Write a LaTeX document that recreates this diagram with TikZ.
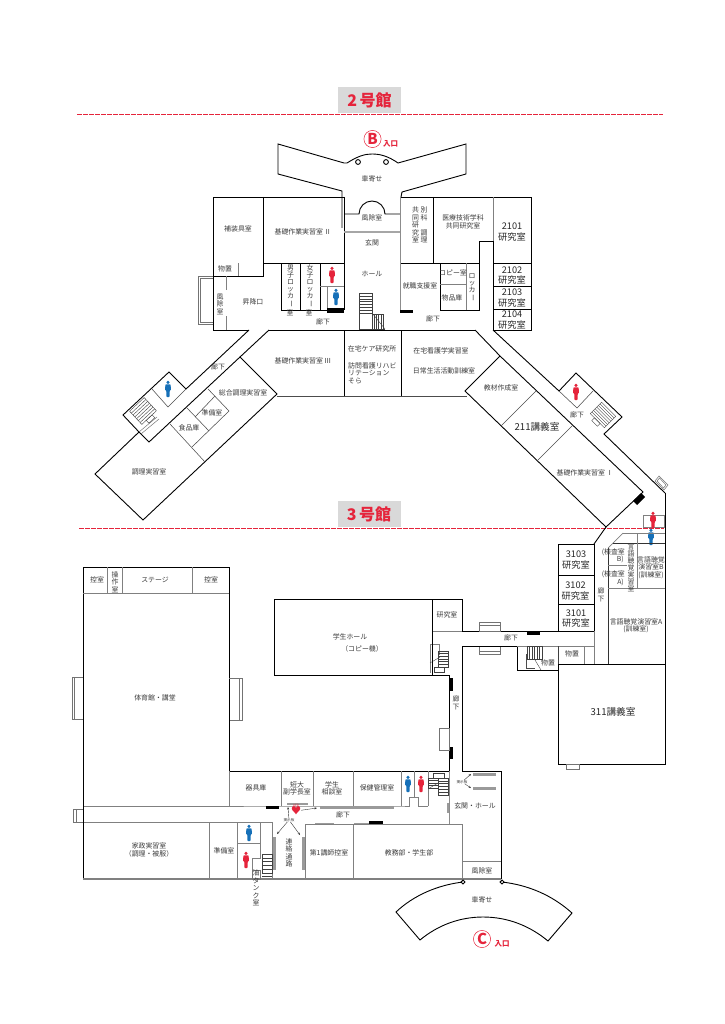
\documentclass[tikz,border=0pt]{standalone}
\usepackage{fontspec}
\setmainfont{Noto Sans CJK JP}
\usetikzlibrary{arrows.meta}
\definecolor{lab}{HTML}{3A3A3A}
\definecolor{redm}{HTML}{E5243B}
\definecolor{blum}{HTML}{1670B8}
\definecolor{gwall}{HTML}{808080}
\definecolor{gbar}{HTML}{9A9A9A}
\newcounter{lbln}
\newcommand{\lbl}[4][]{\stepcounter{lbln}\node[txt,#1] (t\arabic{lbln}) at (#2,#3) {#4};}
\newcommand{\vbar}{\rotatebox[origin=c]{-90}{ー}}
\newcommand{\person}[3]{\fill[#3] (#1,#2-6.6) circle (1.7);
 \fill[#3,rounded corners=0.6] (#1-2.6,#2-4.6) -- (#1+2.6,#2-4.6) -- (#1+3,#2+1.2) -- (#1+1.8,#2+1.2) -- (#1+1.5,#2+8) -- (#1-1.5,#2+8) -- (#1-1.8,#2+1.2) -- (#1-3,#2+1.2) -- cycle;}
\newcommand{\stairH}[5]{\draw[stairl] (#1,#2) rectangle (#1+#3,#2+#4); \foreach \i in {1,...,#5} \draw[stairl] (#1,{#2+#4*\i/(#5+1)}) -- (#1+#3,{#2+#4*\i/(#5+1)});}
\newcommand{\stairV}[5]{\draw[stairl] (#1,#2) rectangle (#1+#3,#2+#4); \foreach \i in {1,...,#5} \draw[stairl] ({#1+#3*\i/(#5+1)},#2) -- ({#1+#3*\i/(#5+1)},#2+#4);}
\tikzset{
 wall/.style={draw=black,line width=0.9pt,line join=miter},
 thin wall/.style={draw=black!70,line width=0.55pt},
 gline/.style={draw=gwall,line width=0.7pt},
 gthick/.style={draw=gwall,line width=1.3pt},
 stairl/.style={draw=black!75,line width=0.4pt},
 txt/.style={font=\fontsize{6.9}{7.5}\selectfont,text=lab,inner sep=0pt,align=center},
 vtxt/.style={txt,font=\fontsize{6.9}{7}\selectfont},
 num/.style={txt,font=\fontsize{9.2}{10.8}\selectfont,text=black!85},
 big/.style={txt,font=\fontsize{9.6}{11}\selectfont,text=black!85},
 title/.style={fill=black!15,text=redm,font=\bfseries\fontsize{16}{16}\selectfont,inner sep=0pt,minimum width=63pt,minimum height=26pt},
 redash/.style={draw=redm,line width=1pt,dash pattern=on 5pt off 1pt},
 blackbar/.style={fill=black},
 graybar/.style={fill=gbar},
 small/.style={txt,font=\fontsize{3.6}{4}\selectfont},
 arr/.style={draw=black!80,line width=0.4pt,-{Stealth[length=2.5pt,width=2pt]}},
 ent/.style={txt,text=redm,font=\bfseries\fontsize{15}{15}\selectfont},
 entc/.style={txt,text=redm,font=\bfseries\fontsize{7.5}{8}\selectfont},
 door/.style={draw=black!55,line width=0.5pt}
}
\begin{document}
\begin{tikzpicture}[x=1pt,y=-1pt]
\useasboundingbox (0,0) rectangle (724,1024);
% ---------- titles
\node[title] (title2) at (369.5,100.5) {2\,号館};
\draw[redash] (77,115) -- (663,115);
\node[title] (title3) at (369,514) {3\,号館};
\draw[redash] (79,528.5) -- (664,528.5);
% B entrance
\draw[redm,line width=0.5pt] (372.5,139) circle (8.6);
\node[ent] (entB) at (372.5,139) {B};
\node[entc] (entBl) at (390.5,144) {入口};
% ---------- building 2 canopy
\draw[wall] (342,228) -- (342,191) -- (278,174) -- (278,144) -- (344,163) -- (347,163)
  .. controls (358,156) and (365,154) .. (372,154) .. controls (380,154) and (388,156) .. (398,163)
  -- (466,144) -- (466,174) -- (402,192) -- (401,197);
\draw[wall,fill=white] (358,162) circle (2.4);
\draw[wall,fill=white] (386,162) circle (2.4);
\lbl{372}{179}{車寄せ}
% building 2 outline
\draw[wall] (249,330) -- (213,330) -- (213,197) -- (344,197);
\draw[wall] (401,197) -- (531,197) -- (531,330) -- (493,330);
\draw[wall] (263,197) -- (263,276) -- (213,276);
\draw[wall] (263,263) -- (344,263);
\draw[wall] (344,197) -- (344,310);
\draw[gline] (238,263) -- (238,276);
\lbl{238}{229}{補装具室}
\lbl{303}{232}{基礎作業実習室 Ⅱ}
\lbl{225}{269}{物置}
% left door
\draw[door] (213,276) -- (198,276) -- (198,324) -- (213,324);
\draw[door] (200,278) -- (200,322) -- (213,322);
\draw[door] (200,278) -- (213,278);
\draw[gline] (226.5,276) -- (226.5,290);
\draw[gline] (226.5,316) -- (226.5,330);
\lbl{220}{304}{風\\除\\室}
\lbl{253}{302}{昇降口}
% lockers
\draw[wall] (281,263) -- (281,310) -- (320,310) -- (320,263);
\draw[wall] (300,263) -- (300,310);
\lbl[vtxt]{290.5}{286}{男\\子\\ロ\\ッ\\カ\\\vbar}
\lbl[vtxt]{310}{286}{女\\子\\ロ\\ッ\\カ\\\vbar}
\lbl{290}{312.5}{室}
\lbl{309}{312.5}{室}
% toilet block
\draw[gline] (320,286) -- (344,286);
\draw[gline] (327,286) -- (327,310);
\draw[wall] (320,310) -- (344,310);
\fill[blackbar] (327,308) rectangle (344,313);
\person{332}{275}{redm}
\person{336}{297}{blum}
% entry
\draw[wall] (344,214) -- (359,214) arc[start angle=180,end angle=360,radius=13] -- (400,214);
\draw[gline,draw=black!35,line width=1.1pt] (344,232) -- (400,232);
\draw[draw=black!45,line width=1pt] (400.5,197) -- (400.5,310);
\lbl{372}{217.5}{風除室}
\lbl{372}{243}{玄関}
\lbl{372}{274}{ホール}
% stairs hall
\draw[stairl] (359,293) -- (359,329);
\stairH{359}{293}{13}{20}{6}
\stairV{372}{314}{11}{15}{4}
\draw[stairl] (372,313) -- (385,329);
\draw[stairl] (359,329) -- (385,329);
% right block
\draw[wall] (433,197) -- (433,263);
\draw[wall] (401,263) -- (479,263);
\draw[wall] (440,263) -- (440,310) -- (479,310) -- (479,241) -- (493,241);
\draw[gline] (466,263) -- (466,310);
\draw[gline] (440,284) -- (466,284);
\draw[gline] (493,197) -- (493,263);
\fill[blackbar] (400,310) rectangle (413,313);
\lbl{424}{225}{別\\科\\　\\調\\理}
\lbl{415.5}{225}{共\\同\\研\\究\\室}
\lbl{463}{222}{医療技術学科\\共同研究室}
\lbl{420}{286}{就職支援室}
\lbl{453}{273}{コピー室}
\lbl{452}{298}{物品庫}
\lbl[vtxt]{472}{288}{ロ\\ッ\\カ\\\vbar}
\lbl{323}{322}{廊下}
\lbl{433}{319}{廊下}
% 21xx rooms
\draw[wall] (493,263) rectangle (531,330);
\draw[wall] (493,286) -- (531,286);
\draw[wall] (493,309) -- (531,309);
\draw[wall] (493,241) -- (493,330);
\lbl[num]{512}{232}{2101\\研究室}
\lbl[num]{512}{275.5}{2102\\研究室}
\lbl[num]{512}{298}{2103\\研究室}
\lbl[num]{512}{320}{2104\\研究室}
% bottom row
\draw[wall] (269,330) -- (475,330);
\draw[wall] (344,330) -- (344,396);
\draw[wall] (401,330) -- (401,396);
\draw[gline,draw=black!70,line width=1pt] (277,396) -- (467,396);
\lbl{303}{361}{基礎作業実習室 Ⅲ}
\lbl{372}{349}{在宅ケア研究所}
\lbl[anchor=west,align=left]{348}{373}{訪問看護リハビ\\リテーション\\そら}
\lbl{441}{351}{在宅看護学実習室}
\lbl{444}{371}{日常生活活動訓練室}
% left wing
\draw[wall] (249,330) -- (186,389) -- (169,372) -- (123,415) -- (139,432) -- (95,474) -- (143,520) -- (277,394) -- (240,357) -- (269,330);
\draw[wall] (139,432) -- (149,442) -- (240,357);
\draw[thin wall] (152,389) -- (168,407) -- (186,389);
\draw[thin wall] (170,424) -- (205,462);
\draw[thin wall] (187,408) -- (209,431);
\draw[thin wall] (192,447) -- (229,411) -- (208,389);
\draw[thin wall] (195,417) -- (215,396);
\draw[door] (139,432) -- (157,417);
\draw[door] (141,434) -- (159,419);
\begin{scope}[shift={(143,411)},rotate=43]
 \stairH{-10}{-9}{20}{18}{6}
 \draw[stairl] (-4,9) rectangle (4,13);
\end{scope}
\person{168}{389}{blum}
\lbl{218}{367}{廊下}
\lbl{243}{393}{総合調理実習室}
\lbl{212}{413}{準備室}
\lbl{189}{428}{食品庫}
\lbl{149}{472}{調理実習室}
% right wing
\draw[wall] (475,330) -- (500,356) -- (643,492) -- (606,527) -- (465,391) -- (500,356);
\draw[wall] (493,330) -- (559,391) -- (576,373) -- (622,417) -- (604,434) -- (665,493);
\draw[thin wall] (559,391) -- (577,408) -- (593,391);
\draw[thin wall] (536,391) -- (501,426);
\draw[thin wall] (572,426) -- (537,461);
\fill[blackbar] (633,501) -- (637,505) -- (645,497) -- (641,493) -- cycle;
\begin{scope}[shift={(603,415)},rotate=-45]
 \stairH{-10}{-8}{20}{16}{6}
 \draw[stairl] (-4,8) rectangle (4,12);
\end{scope}
\draw[door] (655,481) -- (659,476) -- (668,485) -- (664,490) -- cycle;
\draw[door] (657,481) -- (659.5,478) -- (666,485) -- (663.5,488) -- cycle;
\person{576}{392}{redm}
\lbl{577}{415}{廊下}
\lbl{501}{388}{教材作成室}
\lbl[big]{537}{427}{211講義室}
\lbl{585}{473}{基礎作業実習室 Ⅰ}
% ---------- building 3 right
\draw[wall] (606,527) -- (594,544);
\draw[wall] (558,544) rectangle (594,631);
\draw[wall] (558,575) -- (594,575);
\draw[wall] (558,604) -- (594,604);
\lbl[num]{576}{560}{3103\\研究室}
\lbl[num]{575.5}{591}{3102\\研究室}
\lbl[num]{576}{618.5}{3101\\研究室}
\draw[wall] (665,493) -- (665,764);
\draw[gline] (643,515) rectangle (664,527);
\person{653}{520}{redm}
\person{651}{537}{blum}
\draw[gline] (623,533) -- (665,533);
\draw[gline] (623,533) -- (608,548);
\draw[gline,draw=black!80] (613,543) -- (665,543);
\draw[gline,draw=black!80,line width=0.9pt] (608,548) -- (608,664);
\draw[gline] (637,533) -- (637,588);
\draw[gline] (608,565) -- (627,565);
\draw[gline] (608,588) -- (665,588);
\lbl[anchor=east]{625}{552.5}{(検査室}
\lbl[anchor=east]{624}{559.5}{B)}
\lbl[anchor=east]{625}{574}{(検査室}
\lbl[anchor=east]{624}{582}{A)}
\lbl[vtxt]{631}{568}{言\\語\\聴\\覚\\実\\習\\室}
\lbl{651}{567.5}{言語聴覚\\演習室B\\(訓練室)}
\lbl{601}{595}{廊\\下}
\lbl{636}{626}{言語聴覚演習室A\\(訓練室)}
% 311
\draw[wall] (558,664) rectangle (665,764);
\draw[door] (566,764) rectangle (579,769);
\lbl[big]{613}{712}{311講義室}
% corridor
\draw[wall] (432,599) -- (462,599) -- (462,631) -- (558,631);
\draw[gline] (432,631) -- (462,631);
\draw[gline] (432,599) -- (432,644);
\draw[door] (479,622) rectangle (500,631);
\draw[door] (479,625) -- (500,625);
\draw[door] (479,646) rectangle (500,654);
\draw[door] (479,651) -- (500,651);
\fill[blackbar] (527,631) rectangle (540,635);
\lbl{511}{638}{廊下}
\draw[wall] (449,675) -- (449,771);
\draw[wall] (462,771) -- (462,646) -- (517,646) -- (517,670) -- (558,670);
\draw[gline] (517,646) -- (594,646);
\draw[gline] (594,631) -- (594,664);
\draw[gline] (584,646) -- (584,664);
\draw[thin wall] (526,654) -- (526,668) -- (535,668);
\stairV{527}{646}{15}{13}{5}
\draw[stairl] (535,660) -- (541,670);
\draw[stairl] (558,646) -- (558,664);
\lbl{572}{654}{物置}
\lbl{548}{663}{物置}
% upper stairs hall
\draw[gline] (430,644) -- (430,673);
\draw[gline] (430,644) -- (439,644) -- (439,655);
\stairH{438}{651}{10}{16}{5}
\draw[stairl] (430,663) -- (440,657);
\draw[stairl] (434,667) rectangle (444,672);
\fill[blackbar] (449,678) rectangle (453,691);
\fill[blackbar] (449,747) rectangle (453,759);
\draw[door] (439,728) rectangle (449,750);
\lbl{456}{703}{廊\\下}
% right hall
\draw[wall] (462,771) -- (501,771) -- (501,879);
\draw[gline] (462,861) -- (501,861);
\lbl{475}{806}{玄関・ホール}
\lbl{482}{871}{風除室}
\fill[graybar] (473,772.5) rectangle (496,775.5);
\fill[graybar] (473,786.5) rectangle (496,789.5);
\fill[graybar] (447,803) rectangle (449,813);
\node[small] (board1) at (462,782) {掲示板};
\coordinate (b1a) at (471,774);
\coordinate (b1b) at (471,788);
\draw[arr] (board1) -- (b1a);
\draw[arr] (board1) -- (b1b);
\draw[draw=black!45,line width=1pt] (449,771) -- (449,824);
% ---------- gym
\draw[wall] (83,567) rectangle (229,806);
\draw[gline] (83,593) -- (229,593);
\draw[gline] (107,567) -- (107,593);
\draw[gline] (122,567) -- (122,593);
\draw[gline] (192,567) -- (192,593);
\draw[door] (83,677) -- (72,677) -- (72,719) -- (83,719);
\draw[door] (74.5,677) -- (74.5,719);
\draw[door] (229,678) -- (242,678) -- (242,720) -- (229,720);
\draw[door] (239,678) -- (239,720);
\lbl{97}{580}{控室}
\lbl{115}{582}{操\\作\\室}
\lbl{155}{580}{ステージ}
\lbl{211}{580}{控室}
\lbl{155}{698}{体育館・講堂}
% student hall
\draw[wall] (274,599) rectangle (432,675);
\draw[wall] (432,675) -- (449,675);
\draw[wall] (229,720) -- (229,771) -- (449,771);
\lbl{350}{637}{学生ホール}
\lbl{362}{649}{（コピー機）}
\lbl{447}{615}{研究室}
% rooms row
\draw[gline] (229,771) -- (229,806);
\draw[gline] (281,771) -- (281,806);
\draw[gline] (313,771) -- (313,806);
\draw[gline] (353,771) -- (353,806);
\draw[gline] (401,771) -- (401,806);
\draw[gline] (414,771) -- (414,797);
\draw[gline] (428,771) -- (428,806);
\draw[gline] (83,806) -- (401,806) -- (409,806) -- (409,797) -- (418,797) -- (418,806) -- (428,806);
\lbl{256}{788}{器具庫}
\lbl{297}{788.5}{短大\\副学長室}
\lbl{332}{788.5}{学生\\相談室}
\lbl{377}{788}{保健管理室}
\person{408}{784}{blum}
\person{421}{784}{redm}
\draw[stairl] (433,773) rectangle (444,778);
\stairH{438}{778}{10}{17}{5}
\stairH{428}{778}{10}{10}{3}
\draw[stairl] (428,789) -- (438,783);
% bars
\fill[blackbar] (266,806) rectangle (279,809);
\fill[graybar] (287,803) rectangle (308,805);
\fill[graybar] (320,806) rectangle (394,809);
\fill[graybar] (315,822.5) rectangle (334,824.5);
\fill[graybar] (354,822.5) rectangle (369,824.5);
\fill[blackbar] (369,821) rectangle (383,824);
% AED
\node[inner sep=0pt,text=redm,font=\fontsize{10}{10}\selectfont] (aed) at (296,811) {♥};
\node[inner sep=0pt,text=redm,font=\fontsize{3}{3}\selectfont] (aedl) at (296,805.5) {AED};
\node[small] (board2) at (289,820) {掲示板};
\coordinate (b2a) at (277,834);
\coordinate (b2b) at (300,835);
\coordinate (b2c) at (288,807);
\coordinate (b2d) at (317,808);
\draw[arr] (board2) -- (b2a);
\draw[arr] (board2) -- (b2b);
\draw[arr] (board2) -- (b2c);
\draw[arr] (aed) -- (b2d);
% left door corridor
\draw[door] (83,809) -- (73,809) -- (73,822) -- (83,822);
\draw[door] (76,809) -- (76,822);
% lower floor
\draw[gline] (83,822) -- (272,822);
\draw[wall] (83,806) -- (83,879);
\draw[gthick] (83,879) -- (501,879);
\draw[gline] (209,822) -- (209,879);
\draw[gline] (237,822) -- (237,879);
\draw[gline] (260,822) -- (260,858) -- (252,858) -- (252,879);
\draw[gline] (272,822) -- (272,879);
\draw[gline] (237,843) -- (260,843);
\draw[gline] (305,824) -- (305,879);
\draw[gline] (305,824) -- (462,824) -- (462,879);
\draw[gline] (353,824) -- (353,879);
\stairH{262}{854}{10}{19}{4}
\draw[stairl] (262,876) -- (272,876);
\fill[graybar] (273,837) rectangle (276,870);
\fill[graybar] (302,837) rectangle (304.5,870);
\person{249}{833}{blum}
\person{246}{860}{redm}
\lbl{149}{850}{家政実習室\\（調理・被服）}
\lbl{224}{851}{準備室}
\lbl{289}{853}{連\\絡\\通\\路}
\lbl{329}{853}{第1講師控室}
\lbl{409}{853}{教務部・学生部}
\lbl{343}{814.5}{廊下}
\draw[door] (252,870) rectangle (260,879);
\lbl{256}{888}{油\\タ\\ン\\ク\\室}
% canopy C
\draw[wall] (463,882) .. controls (438,885) and (414,895) .. (396,912) -- (420,940) .. controls (438,925) and (460,917) .. (483,917) .. controls (508,917) and (530,926) .. (548,941) -- (572,913) .. controls (552,895) and (528,885) .. (502,882);
\draw[wall,fill=white] (463,882) circle (1.9);
\draw[wall,fill=white] (502,882) circle (1.9);
\lbl{482}{900}{車寄せ}
\draw[redm,line width=0.5pt] (482,939) circle (8.6);
\node[ent] (entC) at (482,939) {C};
\node[entc] (entCl) at (502,944) {入口};
\end{tikzpicture}
\end{document}
